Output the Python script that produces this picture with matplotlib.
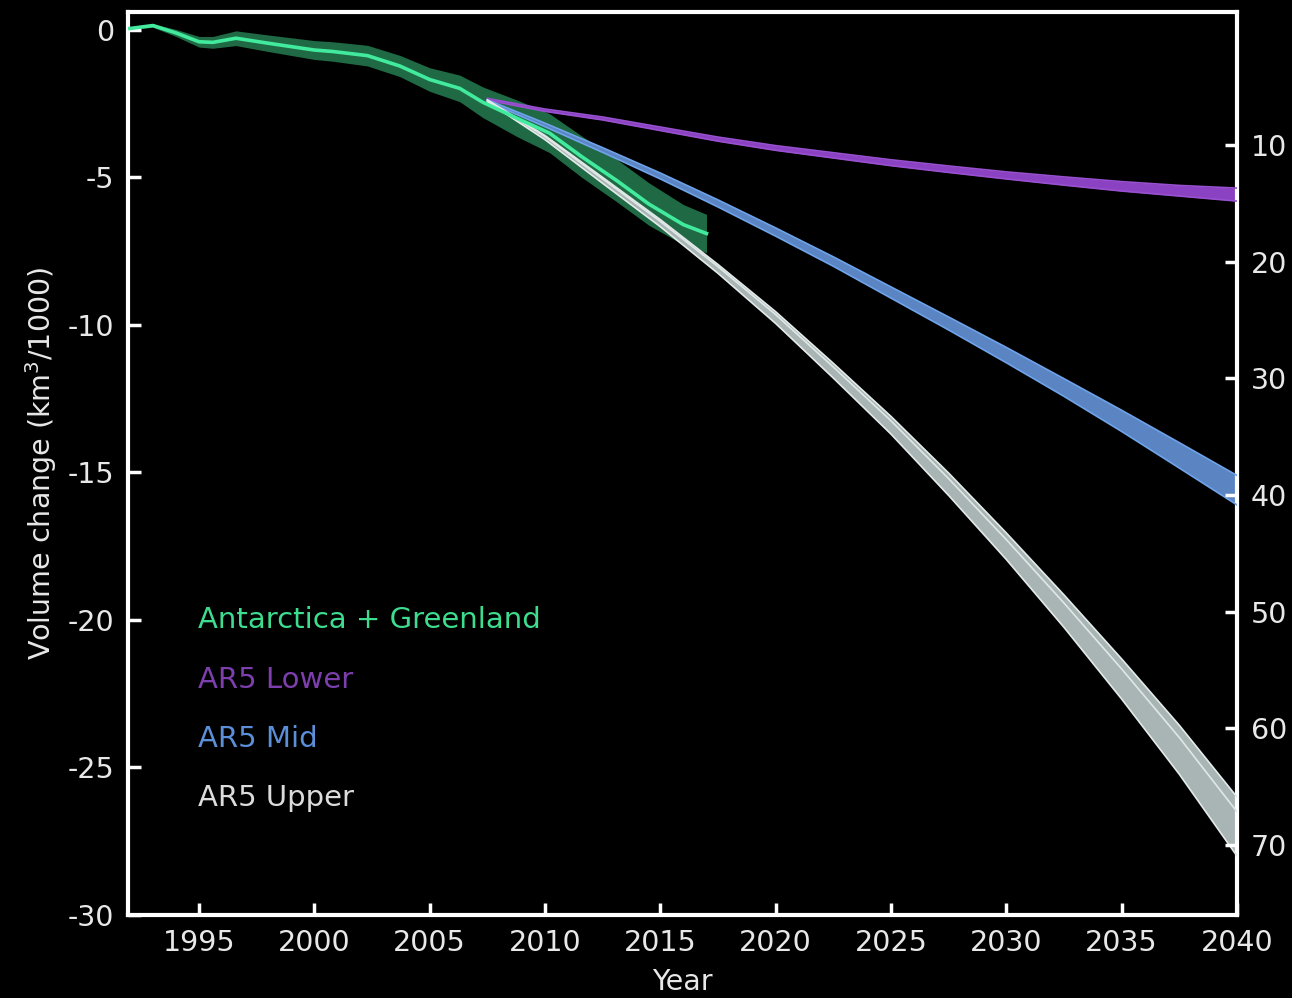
import matplotlib
matplotlib.use("Agg")
import matplotlib.pyplot as plt
import numpy as np

plt.rcParams['font.family'] = ['DejaVu Sans']
plt.rcParams['axes.unicode_minus'] = False

# Observed Antarctica + Greenland volume change (km^3/1000)
obs_years = [1992.0, 1993.0, 1994.0, 1995.0, 1995.6, 1996.6, 1998.0, 2000.0, 2000.8,
             2002.3, 2003.7, 2005.0, 2006.3, 2007.3, 2008.8, 2010.2, 2011.6, 2013.1,
             2014.5, 2016.0, 2017.0]
obs_vals = [0.05, 0.15, -0.1, -0.4, -0.42, -0.28, -0.45, -0.68, -0.73,
            -0.87, -1.22, -1.68, -1.98, -2.45, -3.0, -3.5, -4.3, -5.1,
            -5.9, -6.6, -6.9]
obs_err = [0.03, 0.06, 0.12, 0.18, 0.2, 0.25, 0.28, 0.32, 0.33,
           0.35, 0.36, 0.4, 0.45, 0.52, 0.62, 0.66, 0.7, 0.72,
           0.72, 0.68, 0.65]

# AR5 projections
proj_years = [2007.5, 2010, 2012.5, 2015, 2017.5, 2020, 2022.5, 2025, 2027.5,
              2030, 2032.5, 2035, 2037.5, 2040]
lower_vals = [-2.35, -2.72, -3.0, -3.35, -3.7, -4.0, -4.25, -4.5, -4.72,
              -4.93, -5.12, -5.3, -5.45, -5.58]
lower_err = [0.03, 0.04, 0.05, 0.06, 0.07, 0.08, 0.09, 0.1, 0.11,
             0.12, 0.14, 0.16, 0.18, 0.22]
mid_vals = [-2.4, -3.22, -4.07, -4.95, -5.88, -6.85, -7.85, -8.9, -9.95,
            -11.02, -12.12, -13.25, -14.42, -15.6]
mid_err = [0.03, 0.06, 0.08, 0.1, 0.12, 0.14, 0.16, 0.19, 0.22,
           0.26, 0.3, 0.36, 0.43, 0.5]
upper_vals = [-2.4, -3.65, -5.1, -6.55, -8.1, -9.75, -11.55, -13.4, -15.4,
              -17.5, -19.7, -22.0, -24.4, -27.0]
upper_err = [0.03, 0.07, 0.1, 0.12, 0.15, 0.2, 0.25, 0.3, 0.38,
             0.45, 0.55, 0.68, 0.83, 1.0]

legend_labels = ["Antarctica + Greenland", "AR5 Lower", "AR5 Mid", "AR5 Upper"]
left_ticks = [0, -5, -10, -15, -20, -25, -30]
right_ticks = [10, 20, 30, 40, 50, 60, 70]
x_ticks = [1995, 2000, 2005, 2010, 2015, 2020, 2025, 2030, 2035, 2040]

fig = plt.figure(figsize=(12.92, 9.98), dpi=100, facecolor='black')
ax = fig.add_axes([0.0991, 0.0832, 0.8583, 0.9048])
ax.set_facecolor('black')

oy = np.array(obs_years); ov = np.array(obs_vals); oe = np.array(obs_err)
py = np.array(proj_years)

# observed band
ax.fill_between(oy, ov - oe, ov + oe, color='#1f6a44', lw=0, zorder=1)

# projections
def band(vals, err, fill, edge, inner=None):
    v = np.array(vals); e = np.array(err)
    ax.fill_between(py, v - e, v + e, color=fill, lw=0, zorder=2)
    ax.plot(py, v + e, color=edge, lw=1.2, zorder=3)
    ax.plot(py, v - e, color=edge, lw=1.2, zorder=3)
    if inner is not None:
        ax.plot(py, v + 0.5 * e, color=inner, lw=1.2, zorder=3)

band(lower_vals, lower_err, '#8a42c2', '#9850d0')
band(mid_vals, mid_err, '#5a84c2', '#6ea3ea')
band(upper_vals, upper_err, '#a9b4b4', '#e2ebe9', inner='#dfe8e6')

# observed line
ax.plot(oy, ov, color='#42ea9e', lw=2.6, zorder=5, solid_joinstyle='round')

ax.set_xlim(1991.92, 2040)
ax.set_ylim(-30, 0.61)

for s in ax.spines.values():
    s.set_color('white')
    s.set_linewidth(3)

ax.set_xticks(x_ticks)
ax.set_xticklabels([str(t) for t in x_ticks])
ax.set_yticks(left_ticks)
ax.set_yticklabels([str(t) for t in left_ticks])
ax.tick_params(axis='both', direction='in', length=9, width=2.5, color='white',
               labelcolor='#e8e8e8', labelsize=20.5, pad=10)
ax.tick_params(axis='y', right=False)
ax.tick_params(axis='x', top=False)

ax.set_xlabel('Year', color='#e8e8e8', fontsize=20.5, labelpad=8)
ax.set_ylabel('Volume change (km$^3$/1000)', color='#e8e8e8', fontsize=20.5, labelpad=6)

ax2 = ax.twinx()
ax2.set_ylim(76.0, -1.4)
ax2.set_yticks(right_ticks)
ax2.set_yticklabels([str(t) for t in right_ticks])
ax2.tick_params(axis='y', direction='in', length=9, width=2.5, color='white',
                labelcolor='#e8e8e8', labelsize=20.5, pad=10)
for s in ax2.spines.values():
    s.set_visible(False)

text_colors = ['#3ddc8e', '#7e3fae', '#5b8fd8', '#dcdcdc']
text_y = [0.3267, 0.2602, 0.1949, 0.1296]
for lab, c, y in zip(legend_labels, text_colors, text_y):
    ax.text(0.063, y, lab, color=c, fontsize=21, transform=ax.transAxes,
            ha='left', va='center', zorder=6)

fig.savefig('out.png', dpi=100, facecolor='black')
